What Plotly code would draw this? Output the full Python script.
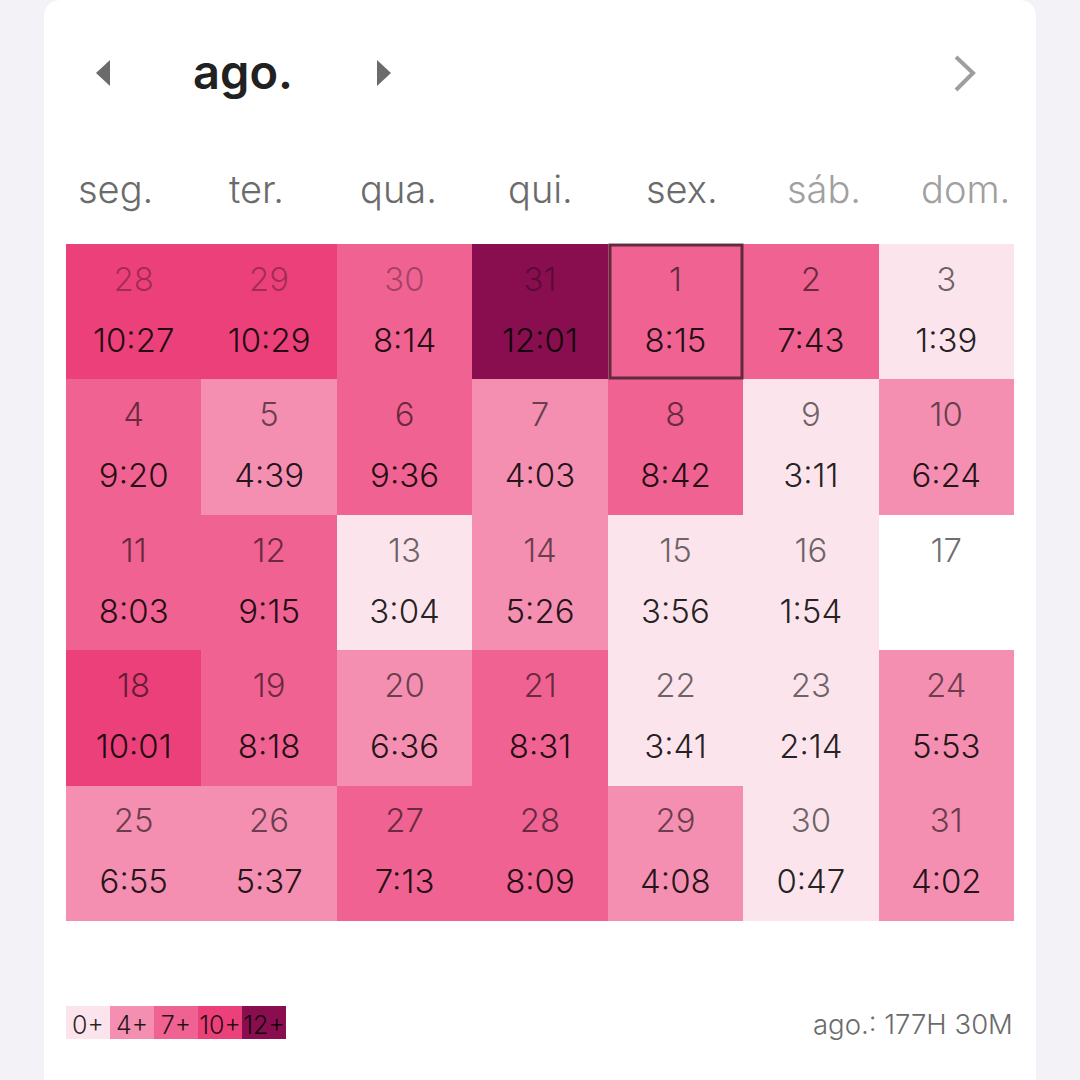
import plotly.graph_objects as go

# Chart data
MONTH_TITLE = "ago."
TOTAL_LABEL = "ago.: 177H 30M"
WEEKDAYS = ["seg.", "ter.", "qua.", "qui.", "sex.", "sáb.", "dom."]
DAYS = [
    [28, 29, 30, 31, 1, 2, 3],
    [4, 5, 6, 7, 8, 9, 10],
    [11, 12, 13, 14, 15, 16, 17],
    [18, 19, 20, 21, 22, 23, 24],
    [25, 26, 27, 28, 29, 30, 31],
]
DURATIONS = [
    ["10:27", "10:29", "8:14", "12:01", "8:15", "7:43", "1:39"],
    ["9:20", "4:39", "9:36", "4:03", "8:42", "3:11", "6:24"],
    ["8:03", "9:15", "3:04", "5:26", "3:56", "1:54", ""],
    ["10:01", "8:18", "6:36", "8:31", "3:41", "2:14", "5:53"],
    ["6:55", "5:37", "7:13", "8:09", "4:08", "0:47", "4:02"],
]
LEGEND_LABELS = ["0+", "4+", "7+", "10+", "12+"]
LEGEND_HOURS = [0, 4, 7, 10, 12]
LEGEND_COLORS = ["#FCE4EC", "#F48FB1", "#F06292", "#EC407A", "#880E4F"]

FONT = "Inter"
SIZE = 1080
HOUR_MAX = 15


def px(x):
    return x / SIZE


def py(y):
    return 1 - y / SIZE


def to_hours(text):
    if not text:
        return None
    hours, minutes = text.split(":")
    return int(hours) + int(minutes) / 60


def poly(points, close=True):
    path = "M " + " L ".join(f"{px(x):.5f},{py(y):.5f}" for x, y in points)
    return path + (" Z" if close else "")


# stepped colour scale, one band per legend entry
colorscale = []
edges = LEGEND_HOURS + [HOUR_MAX]
for i, color in enumerate(LEGEND_COLORS):
    colorscale.append([edges[i] / HOUR_MAX, color])
    colorscale.append([edges[i + 1] / HOUR_MAX, color])

z = [[to_hours(t) for t in row] for row in DURATIONS]

fig = go.Figure()
fig.add_trace(go.Heatmap(z=z,
                         x=list(range(7)),
                         y=list(range(5)),
                         colorscale=colorscale,
                         zmin=0,
                         zmax=HOUR_MAX,
                         showscale=False,
                         hoverongaps=False,
                         hovertemplate='%{z:.2f} h<extra></extra>'))

# day number and duration labels inside the cells
day_x, day_y, day_text, day_color = [], [], [], []
time_x, time_y, time_text = [], [], []
for r in range(5):
    for c in range(7):
        day_x.append(c)
        day_y.append(r - 0.215)
        day_text.append(str(DAYS[r][c]))
        # the days of the previous month are fainter
        faded = r == 0 and DAYS[r][c] > 20
        day_color.append('rgba(0,0,0,0.33)' if faded else 'rgba(0,0,0,0.58)')
        if DURATIONS[r][c]:
            time_x.append(c)
            time_y.append(r + 0.235)
            time_text.append(DURATIONS[r][c])

fig.add_trace(go.Scatter(x=day_x, y=day_y, text=day_text, mode='text',
                         textfont={'family': FONT, 'size': 33, 'weight': 350, 'color': day_color},
                         hoverinfo='skip'))
fig.add_trace(go.Scatter(x=time_x, y=time_y, text=time_text, mode='text',
                         textfont={'family': FONT, 'size': 33, 'weight': 350, 'color': 'rgba(0,0,0,0.87)'},
                         hoverinfo='skip'))

# legend strip on its own axes
fig.add_trace(go.Heatmap(z=[[h + 0.5 for h in LEGEND_HOURS]],
                         x=list(range(5)),
                         y=[0],
                         xaxis='x2',
                         yaxis='y2',
                         colorscale=colorscale,
                         zmin=0,
                         zmax=HOUR_MAX,
                         showscale=False,
                         hoverinfo='skip'))
fig.add_trace(go.Scatter(x=list(range(5)), y=[-0.15] * 5, text=LEGEND_LABELS, mode='text',
                         xaxis='x2', yaxis='y2',
                         textfont={'family': FONT, 'size': 25, 'weight': 300, 'color': 'rgba(0,0,0,0.85)'},
                         hoverinfo='skip'))

# page furniture
card = (f"M {px(44):.5f},{py(1100):.5f} L {px(44):.5f},{py(18):.5f} "
        f"Q {px(44):.5f},{py(0):.5f} {px(62):.5f},{py(0):.5f} "
        f"L {px(1018):.5f},{py(0):.5f} "
        f"Q {px(1036):.5f},{py(0):.5f} {px(1036):.5f},{py(18):.5f} "
        f"L {px(1036):.5f},{py(1100):.5f} Z")
shapes = [
    dict(type='path', path=card, xref='paper', yref='paper', layer='below',
         fillcolor='white', line={'width': 0}),
    dict(type='path', path=poly([(110, 60), (110, 86), (96, 73)]), xref='paper', yref='paper',
         fillcolor='#6B6B6B', line={'width': 0}),
    dict(type='path', path=poly([(377, 60), (377, 86), (391, 73)]), xref='paper', yref='paper',
         fillcolor='#6B6B6B', line={'width': 0}),
    dict(type='path', path=poly([(956, 57), (973, 73), (956, 90)], close=False), xref='paper', yref='paper',
         line={'width': 4, 'color': '#9E9E9E'}),
    dict(type='rect', xref='paper', yref='paper', x0=px(610), x1=px(742), y0=py(378), y1=py(245),
         line={'width': 3, 'color': 'rgba(60,30,45,0.8)'}),
]

annotations = [
    dict(text=MONTH_TITLE, x=px(243), y=py(72), xref='paper', yref='paper',
         showarrow=False, xanchor='center', yanchor='middle',
         font={'family': FONT, 'size': 47, 'weight': 600, 'color': '#212121'}),
    dict(text=TOTAL_LABEL, x=px(1015), y=py(1024), xref='paper', yref='paper',
         showarrow=False, xanchor='right', yanchor='middle',
         font={'family': FONT, 'size': 27.5, 'weight': 300, 'color': '#6B6B6B'}),
]
for i, name in enumerate(WEEKDAYS):
    annotations.append(dict(text=name, x=px(115 + i * 141.8), y=py(189), xref='paper', yref='paper',
                            showarrow=False, xanchor='center', yanchor='middle',
                            font={'family': FONT, 'size': 38, 'weight': 300,
                                  'color': '#A0A0A0' if i >= 5 else '#6B6B6B'}))

hidden = {'visible': False, 'fixedrange': True}
fig.update_layout(
    width=SIZE,
    height=SIZE,
    margin={'l': 0, 'r': 0, 't': 0, 'b': 0},
    paper_bgcolor='#F2F2F7',
    plot_bgcolor='rgba(0,0,0,0)',
    showlegend=False,
    xaxis={**hidden, 'range': [-0.5, 6.5], 'domain': [px(66), px(1014)]},
    yaxis={**hidden, 'range': [4.5, -0.5], 'domain': [py(921), py(244)]},
    xaxis2={**hidden, 'range': [-0.5, 4.5], 'domain': [px(66), px(286)], 'anchor': 'y2'},
    yaxis2={**hidden, 'range': [-0.5, 0.5], 'domain': [py(1039), py(1006)], 'anchor': 'x2'},
    shapes=shapes,
    annotations=annotations,
)

# drop the browser's default body margin so the page fills the window exactly
fig.write_html("out.html", config={'displayModeBar': False},
               post_script="document.body.style.margin='0';")
